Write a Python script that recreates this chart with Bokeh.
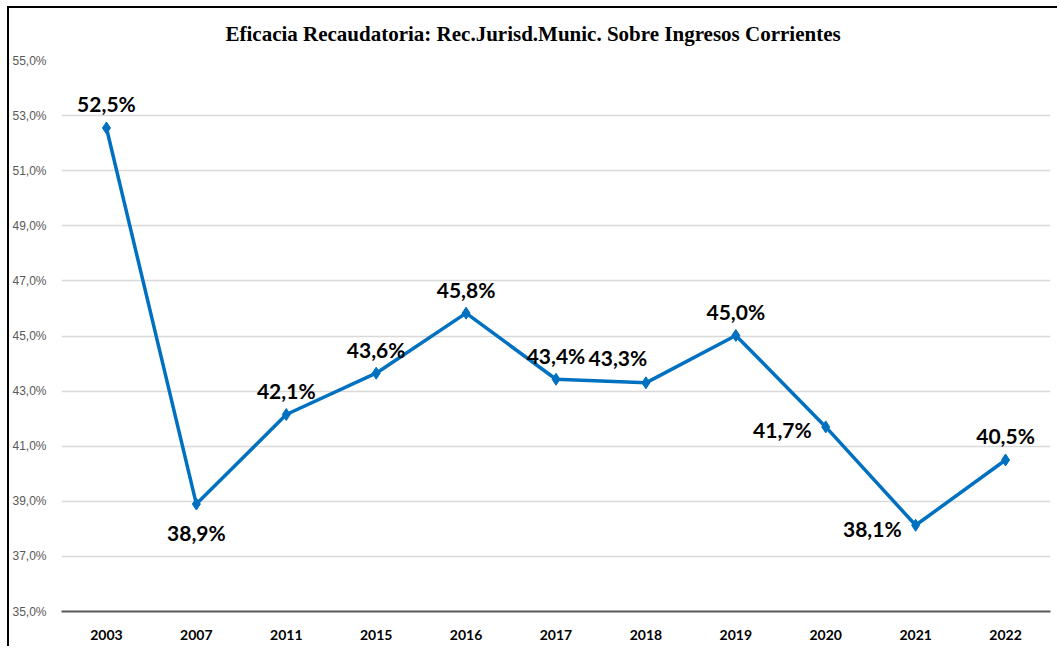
from bokeh.plotting import figure
from bokeh.models import ColumnDataSource, CustomJSTickFormatter, FixedTicker, Range1d
from bokeh.core.properties import value
from bokeh.embed import file_html
from bokeh.resources import INLINE

years = ["2003", "2007", "2011", "2015", "2016", "2017", "2018", "2019", "2020", "2021", "2022"]
values = [52.55, 38.9, 42.15, 43.65, 45.83, 43.43, 43.3, 45.02, 41.7, 38.13, 40.5]
labels = ["52,5%", "38,9%", "42,1%", "43,6%", "45,8%", "43,4%", "43,3%", "45,0%", "41,7%", "38,1%", "40,5%"]
placement = ["above", "below", "above", "above", "above", "above", "above_left", "above", "left", "left", "above"]
y_ticks = [35, 37, 39, 41, 43, 45, 47, 49, 51, 53, 55]

title_text = "Eficacia Recaudatoria: Rec.Jurisd.Munic. Sobre Ingresos Corrientes"

off = {
    "above": (0, -24, "center"),
    "below": (0, 28, "center"),
    "left": (-14, 3, "right"),
    "above_left": (-28, -25, "center"),
}
xo = [off[k][0] for k in placement]
yo = [off[k][1] for k in placement]
al = [off[k][2] for k in placement]

src = ColumnDataSource(dict(x=years, y=values, lab=labels, xo=xo, yo=yo, al=al))

p = figure(x_range=years, y_range=Range1d(35, 55), width=1050, height=640,
           output_backend="svg", toolbar_location=None,
           min_border_left=51, min_border_right=9, min_border_top=52, min_border_bottom=37)
p.margin = (6, 0, 0, 7)
p.styles = {"border-top": "2px solid black", "border-left": "2px solid black"}
p.outline_line_color = None
p.background_fill_color = "white"
p.border_fill_color = "white"

p.title.text = title_text
p.title.align = "left"
p.title.offset = 164
p.title.standoff = 25
p.title.vertical_align = "top"
p.title.text_font = "Liberation Serif"
p.title.text_font_style = "bold"
p.title.text_font_size = "21px"
p.title.text_color = "black"

p.xgrid.grid_line_color = None
p.ygrid.grid_line_color = "#d9d9d9"
p.ygrid.grid_line_width = 1.5

p.yaxis.ticker = FixedTicker(ticks=y_ticks)
p.yaxis.formatter = CustomJSTickFormatter(code="return tick.toFixed(1).replace('.', ',') + '%';")
p.yaxis.axis_line_color = None
p.yaxis.major_tick_line_color = None
p.yaxis.minor_tick_line_color = None
p.yaxis.major_label_text_font = "Liberation Sans"
p.yaxis.major_label_text_font_size = "12px"
p.yaxis.major_label_text_color = "#595959"
p.yaxis.major_label_standoff = 9

p.xaxis.axis_line_color = "#595959"
p.xaxis.axis_line_width = 2
p.xaxis.major_tick_line_color = None
p.xaxis.minor_tick_line_color = None
p.xaxis.major_label_text_font = "Lato"
p.xaxis.major_label_text_font_style = "bold"
p.xaxis.major_label_text_font_size = "14px"
p.xaxis.major_label_text_color = "black"
p.xaxis.major_label_standoff = 12

p.line("x", "y", source=src, line_color="#0070C0", line_width=3.5)
p.scatter("x", "y", source=src, marker="diamond", size=12, fill_color="#0070C0", line_color="#0070C0")

p.text("x", "y", text="lab", source=src, x_offset="xo", y_offset="yo", text_align="al",
       text_baseline="middle", text_font=value("Lato"), text_font_style="bold",
       text_font_size="21px", text_color="black")

open("out.html", "w").write(file_html(p, INLINE))
